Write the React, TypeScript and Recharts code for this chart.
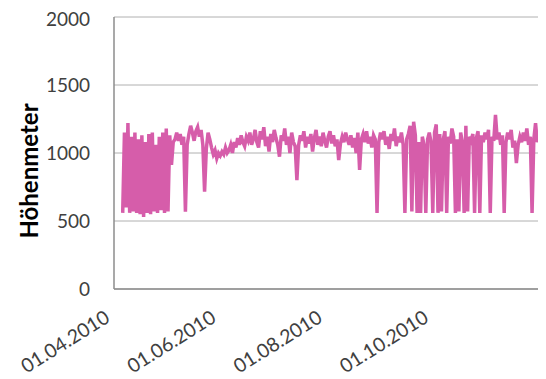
import { LineChart, Line, XAxis, YAxis, CartesianGrid } from 'recharts';

// x axis: days counted from 01.04.2010
const TICK_DAYS = [0, 61, 122, 183];
const TICK_LABELS = ['01.04.2010', '01.06.2010', '01.08.2010', '01.10.2010'];
const Y_TICKS = [0, 500, 1000, 1500, 2000];

// first measured day (06.04.2010)
const FIRST_DAY = 5;

// daily elevation gain, from 06.04.2010
const HOEHENMETER = [
  560, 1150, 600, 1220, 560, 1120, 570, 1150, 560, 1100,
  550, 1130, 530, 1080, 560, 1140, 550, 1150, 570, 1060,
  560, 1120, 580, 1150, 560, 1180, 570,
  1130, 912, 1080, 1100, 1150, 1090, 1140, 1060, 1120, 568,
  1060, 1140, 1200, 1150, 1090, 1160, 1190, 1120, 1170, 1060,
  716, 1030, 1150, 1100, 1040, 990, 1020, 960, 1000, 980,
  1010, 990, 1040, 1000, 1020, 1060, 1000, 1080, 1040, 1110,
  1060, 1130, 1080, 1050, 1120, 1090, 1150, 1060, 1100, 1170,
  1080, 1040, 1160, 1100, 1190, 1050, 1120, 1010, 1140, 1080,
  1170, 1110, 1060, 973, 1130, 1090, 1180, 1060, 1120, 1000,
  1150, 1080, 1050, 801, 1060, 1130, 1090, 1160, 1040, 1120,
  1070, 1140, 1010, 1110, 1170, 1060, 1120, 1050, 1150, 1090,
  1040, 1120, 1160, 1070, 1130, 1050, 1100, 948, 1070, 1120,
  1080, 1150, 1100, 1060, 1130, 1040, 1110, 1000, 1150, 875,
  1100, 1140, 1080, 1160, 1070, 1120, 1040, 1130, 1100, 559,
  1080, 1150, 1100, 1160, 1060, 1120, 1030, 1140, 1090, 1180,
  1050, 1120, 1080, 1150, 1060, 560, 1100, 1140, 1200, 570,
  1230, 1130, 560, 1080, 560, 1120, 1060, 560, 1100, 1150,
  1080, 560, 1150, 1210, 560, 1140, 570, 1100, 1160, 560,
  1120, 1070, 1180, 1120, 560, 1100, 570, 1150, 1080, 560,
  1200, 570, 1120, 1090, 1140, 560, 1110, 1160, 560, 1130,
  1080, 1150, 1100, 1170, 560, 1120, 1090, 1280, 1100, 1150,
  1060, 1130, 560, 1080, 1150, 1100, 1170, 1040, 1090, 926,
  1060, 1120, 1080, 1150, 1090, 1180, 1060, 1120, 560, 1100,
  1220, 1080, 1130, 1060, 560, 600,
];

const data = HOEHENMETER.map((v, i) => ({ day: FIRST_DAY + i, value: v }));

const FONT = 'Lato, "Open Sans", sans-serif';

const DateTick = (props: any) => {
  const { x, y, payload } = props;
  const idx = TICK_DAYS.indexOf(payload.value);
  const tx = x - 3;
  const ty = y + 24;
  return (
    <text
      x={tx}
      y={ty}
      textAnchor="end"
      transform={`rotate(-32, ${tx}, ${ty})`}
      fontSize={19.5}
      fontFamily={FONT}
      fill="#404040"
    >
      {TICK_LABELS[idx]}
    </text>
  );
};

const YTitle = (props: any) => {
  const { viewBox } = props;
  const cx = 20;
  const cy = viewBox.y + viewBox.height / 2 + 18;
  return (
    <text
      x={cx}
      y={cy}
      textAnchor="middle"
      dominantBaseline="central"
      transform={`rotate(-90, ${cx}, ${cy})`}
      fontSize={24}
      fontWeight={700}
      fontFamily={FONT}
      fill="#000"
    >
      Höhenmeter
    </text>
  );
};

export default function App() {
  return (
    <div style={{ width: 538, height: 371, background: '#fff' }}>
      <LineChart width={538} height={371} data={data} margin={{ top: 9, right: 0, bottom: 0, left: 0 }}>
        <CartesianGrid vertical={false} stroke="#b0b0b0" strokeWidth={1} />
        <XAxis
          dataKey="day"
          type="number"
          domain={[0, 248]}
          ticks={TICK_DAYS}
          tick={<DateTick />}
          tickLine={false}
          axisLine={{ stroke: '#8c8c8c', strokeWidth: 1.5 }}
          height={90}
          interval={0}
        />
        <YAxis
          domain={[0, 2000]}
          ticks={Y_TICKS}
          width={106}
          tickLine={false}
          tickSize={0}
          tickMargin={24}
          axisLine={{ stroke: '#8c8c8c', strokeWidth: 1.5 }}
          tick={{ fontSize: 19, fontFamily: FONT, fill: '#404040' }}
          label={{ content: <YTitle /> }}
        />
        <Line
          type="linear"
          dataKey="value"
          stroke="#d65daa"
          strokeWidth={3.5}
          dot={false}
          isAnimationActive={false}
        />
      </LineChart>
    </div>
  );
}
